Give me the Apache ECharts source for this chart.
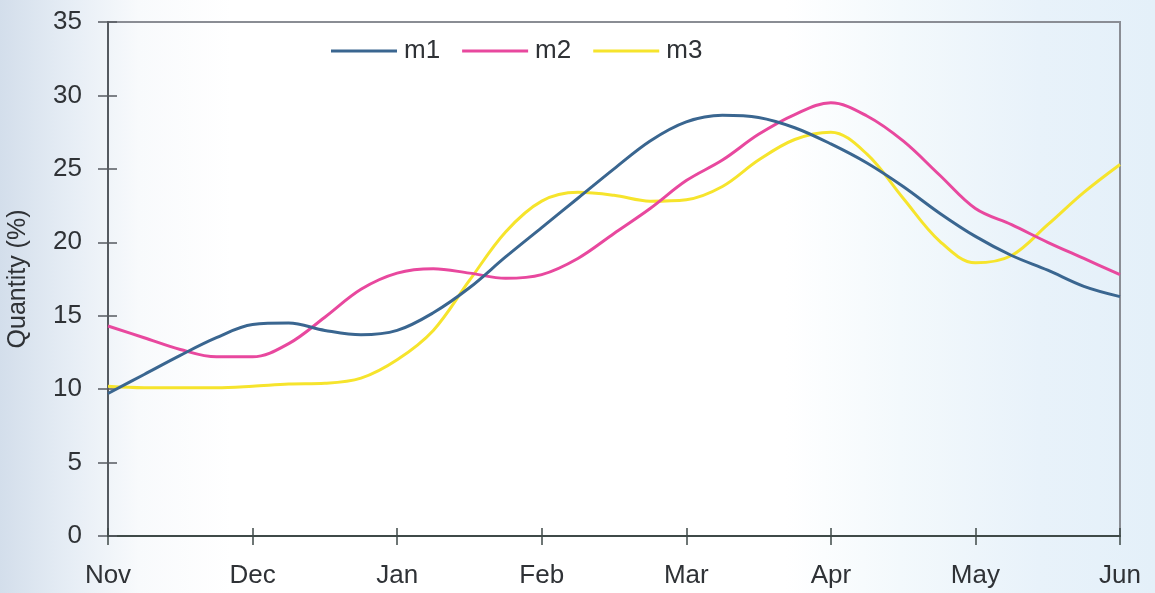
<!DOCTYPE html>
<html>
<head>
<meta charset="utf-8">
<script src="https://cdn.jsdelivr.net/npm/echarts@6/dist/echarts.min.js"></script>
<style>
  html, body { margin: 0; padding: 0; }
  body {
    width: 1155px; height: 593px; overflow: hidden;
    background: linear-gradient(to right, #d3deeb 0%, #e6edf5 6%, #f8fafc 12%, #ffffff 20%, #ffffff 68%, #f3f9fc 78%, #e8f2fa 90%, #e4f0f9 100%);
  }
  #chart { width: 1155px; height: 593px; }
</style>
</head>
<body>
<div id="chart"></div>
<script>
// Month labels on the x axis (one tick per month start)
const months = ['Nov', 'Dec', 'Jan', 'Feb', 'Mar', 'Apr', 'May', 'Jun'];
// Samples are taken every quarter month from Nov to Jun
const samplesPerMonth = 4;
const yTicks = [0, 5, 10, 15, 20, 25, 30, 35];

const m1 = [9.7, 11.0, 12.3, 13.5, 14.4, 14.5, 14.0, 13.7, 14.0, 15.2, 16.9, 19.0, 21.0, 23.0, 25.0, 26.9,
            28.2, 28.65, 28.5, 27.8, 26.7, 25.4, 23.8, 22.0, 20.4, 19.1, 18.1, 17.0, 16.3];
const m2 = [14.3, 13.5, 12.7, 12.2, 12.2, 13.1, 14.9, 16.8, 17.9, 18.2, 17.9, 17.55, 17.8, 18.9, 20.6, 22.3,
            24.2, 25.6, 27.35, 28.7, 29.5, 28.6, 26.9, 24.6, 22.3, 21.2, 20.0, 18.9, 17.8];
const m3 = [10.2, 10.1, 10.1, 10.1, 10.2, 10.35, 10.4, 10.75, 12.0, 14.0, 17.4, 20.7, 22.8, 23.4, 23.2, 22.8,
            22.9, 23.8, 25.6, 27.0, 27.5, 26.0, 23.0, 20.1, 18.6, 19.1, 21.2, 23.4, 25.3];

const seriesNames = ['m1', 'm2', 'm3'];
const seriesColors = ['#3a6690', '#e8489e', '#f6e42c'];

function toPoints(values) {
  return values.map((v, i) => [i / samplesPerMonth, v]);
}

const font = '"Liberation Sans", Arial, sans-serif';
const textColor = '#2f3236';

const chart = echarts.init(document.getElementById('chart'), null, { renderer: 'canvas' });

chart.setOption({
  backgroundColor: 'transparent',
  animation: false,
  grid: {
    left: 108, right: 35, top: 22, bottom: 57,
    outerBoundsMode: 'none', containLabel: false,
    show: true, borderColor: '#8a8d94', borderWidth: 2, backgroundColor: 'transparent'
  },
  legend: {
    left: 326, top: 33,
    itemWidth: 66, itemHeight: 14, itemGap: 22,
    icon: 'path://M0,6 L66,6 L66,9 L0,9 Z',
    textStyle: { fontFamily: font, fontSize: 26, color: textColor, padding: [0, 0, 0, 2] },
    data: seriesNames
  },
  xAxis: [{
    type: 'value', min: 0, max: months.length - 1, interval: 1,
    axisLine: { show: true, onZero: false, lineStyle: { color: '#3f4a48', width: 2 } },
    axisTick: { show: true, inside: false, length: 9, lineStyle: { color: '#3f4a48', width: 1.5 } },
    splitLine: { show: false },
    axisLabel: {
      margin: 27, fontFamily: font, fontSize: 26, color: textColor,
      formatter: v => months[Math.round(v)] || ''
    }
  }, {
    type: 'value', min: 0, max: months.length - 1, interval: 1, position: 'bottom',
    axisLine: { show: false },
    axisTick: { show: true, inside: true, length: 8, lineStyle: { color: '#3f4a48', width: 1.5 } },
    splitLine: { show: false },
    axisLabel: { show: false }
  }],
  yAxis: [{
    type: 'value', min: yTicks[0], max: yTicks[yTicks.length - 1], interval: 5,
    name: 'Quantity (%)', nameLocation: 'middle', nameGap: 77, nameRotate: 90,
    nameTextStyle: { fontFamily: font, fontSize: 25, color: textColor },
    axisLine: { show: true, onZero: false, lineStyle: { color: '#555a60', width: 2 } },
    axisTick: { show: true, inside: false, length: 10, lineStyle: { color: '#555a60', width: 1.5 } },
    splitLine: { show: false },
    axisLabel: { margin: 26, fontFamily: font, fontSize: 26, color: textColor }
  }, {
    type: 'value', min: yTicks[0], max: yTicks[yTicks.length - 1], interval: 5, position: 'left',
    axisLine: { show: false },
    axisTick: { show: true, inside: true, length: 9, lineStyle: { color: '#555a60', width: 1.5 } },
    splitLine: { show: false },
    axisLabel: { show: false }
  }],
  series: [m1, m2, m3].map((vals, k) => ({
    name: seriesNames[k],
    type: 'line',
    data: toPoints(vals),
    smooth: 0.35,
    symbol: 'none',
    showSymbol: false,
    lineStyle: { color: seriesColors[k], width: 3 },
    itemStyle: { color: seriesColors[k] },
    z: 3 - k
  }))
});
</script>
</body>
</html>
